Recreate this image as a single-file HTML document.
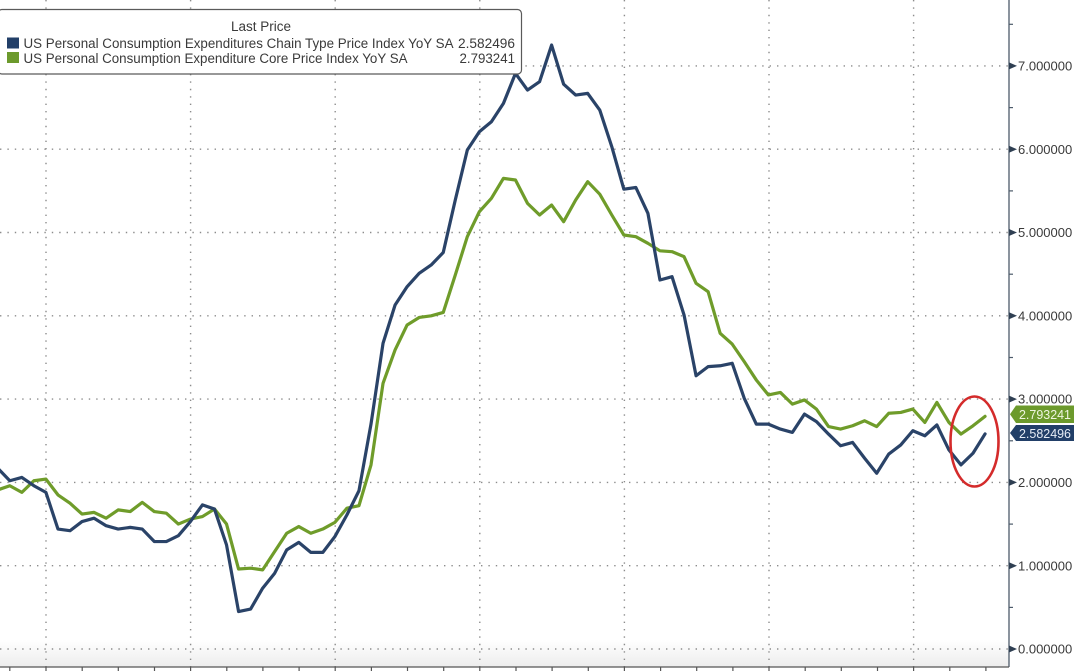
<!DOCTYPE html>
<html>
<head>
<meta charset="utf-8">
<style>
  html,body{margin:0;padding:0;background:#ffffff;}
  body{width:1080px;height:671px;overflow:hidden;}
  svg{display:block;}
  text{font-family:"Liberation Sans",Arial,sans-serif;}
</style>
</head>
<body>
<svg width="1080" height="671" viewBox="0 0 1080 671" xmlns="http://www.w3.org/2000/svg">
  <defs>
    <linearGradient id="btm" x1="0" y1="0" x2="0" y2="1">
      <stop offset="0" stop-color="#ffffff"/>
      <stop offset="1" stop-color="#ededed"/>
    </linearGradient>
  </defs>
  <rect x="0" y="0" width="1080" height="671" fill="#ffffff"/>
  <rect x="0" y="640" width="1009" height="27" fill="url(#btm)"/>

  <!-- horizontal gridlines -->
  <g stroke="#8c8c8c" stroke-width="1.4" stroke-dasharray="1.4 6" fill="none">
    <line x1="0" y1="649" x2="1009" y2="649"/>
    <line x1="0" y1="565.7" x2="1009" y2="565.7"/>
    <line x1="0" y1="482.4" x2="1009" y2="482.4"/>
    <line x1="0" y1="399.1" x2="1009" y2="399.1"/>
    <line x1="0" y1="315.8" x2="1009" y2="315.8"/>
    <line x1="0" y1="232.5" x2="1009" y2="232.5"/>
    <line x1="0" y1="149.2" x2="1009" y2="149.2"/>
    <line x1="0" y1="65.9" x2="1009" y2="65.9"/>
  </g>
  <!-- vertical gridlines -->
  <g stroke="#8c8c8c" stroke-width="1.4" stroke-dasharray="1.4 6" fill="none">
    <line x1="46" y1="0" x2="46" y2="667"/>
    <line x1="190.6" y1="0" x2="190.6" y2="667"/>
    <line x1="335.2" y1="0" x2="335.2" y2="667"/>
    <line x1="479.8" y1="0" x2="479.8" y2="667"/>
    <line x1="624.4" y1="0" x2="624.4" y2="667"/>
    <line x1="769" y1="0" x2="769" y2="667"/>
    <line x1="913.6" y1="0" x2="913.6" y2="667"/>
  </g>

  <!-- series -->
  <g transform="matrix(12.04 0 0 -83.3 -2.24 649)" fill="none" stroke-linejoin="round" stroke-linecap="round">
    <polyline vector-effect="non-scaling-stroke" stroke="#6f9c2a" stroke-width="3.2"
      points="0,1.91 1,1.96 2,1.88 3,2.02 4,2.04 5,1.85 6,1.75 7,1.62 8,1.64 9,1.57 10,1.67 11,1.65 12,1.76 13,1.65 14,1.63 15,1.50 16,1.56 17,1.59 18,1.68 19,1.50 20,0.96 21,0.97 22,0.95 23,1.17 24,1.39 25,1.47 26,1.39 27,1.44 28,1.52 29,1.69 30,1.72 31,2.21 32,3.19 33,3.59 34,3.89 35,3.98 36,4.00 37,4.04 38,4.49 39,4.95 40,5.25 41,5.41 42,5.65 43,5.63 44,5.35 45,5.21 46,5.33 47,5.13 48,5.39 49,5.61 50,5.46 51,5.21 52,4.97 53,4.95 54,4.87 55,4.78 56,4.77 57,4.71 58,4.39 59,4.29 60,3.79 61,3.66 62,3.45 63,3.23 64,3.05 65,3.08 66,2.94 67,2.99 68,2.88 69,2.67 70,2.64 71,2.68 72,2.74 73,2.67 74,2.83 75,2.84 76,2.88 77,2.72 78,2.96 79,2.72 80,2.58 81,2.68 82,2.793"/>
    <polyline vector-effect="non-scaling-stroke" stroke="#2a4368" stroke-width="3.2"
      points="0,2.17 1,2.02 2,2.06 3,1.96 4,1.88 5,1.44 6,1.42 7,1.53 8,1.57 9,1.48 10,1.44 11,1.46 12,1.44 13,1.29 14,1.29 15,1.36 16,1.53 17,1.73 18,1.68 19,1.25 20,0.45 21,0.48 22,0.73 23,0.91 24,1.19 25,1.28 26,1.16 27,1.16 28,1.35 29,1.61 30,1.90 31,2.70 32,3.67 33,4.13 34,4.35 35,4.51 36,4.61 37,4.76 38,5.39 39,5.99 40,6.21 41,6.33 42,6.55 43,6.91 44,6.71 45,6.81 46,7.25 47,6.78 48,6.65 49,6.67 50,6.47 51,6.03 52,5.52 53,5.54 54,5.23 55,4.43 56,4.47 57,4.01 58,3.28 59,3.39 60,3.40 61,3.43 62,3.01 63,2.70 64,2.70 65,2.64 66,2.60 67,2.82 68,2.73 69,2.58 70,2.44 71,2.48 72,2.29 73,2.11 74,2.34 75,2.45 76,2.62 77,2.56 78,2.69 79,2.39 80,2.21 81,2.35 82,2.582"/>
  </g>

  <!-- red ellipse -->
  <ellipse cx="974.5" cy="441.5" rx="24" ry="45" fill="none" stroke="#d42b2b" stroke-width="2.6"/>

  <!-- axes -->
  <line x1="1009" y1="0" x2="1009" y2="667" stroke="#4d5b6a" stroke-width="1.3"/>
  <line x1="0" y1="667" x2="1009" y2="667" stroke="#555" stroke-width="1.3"/>
  <g stroke="#555" stroke-width="1.2">
    <line x1="9.8" y1="667" x2="9.8" y2="671"/>
    <line x1="46" y1="667" x2="46" y2="671"/>
    <line x1="82.2" y1="667" x2="82.2" y2="671"/>
    <line x1="118.3" y1="667" x2="118.3" y2="671"/>
    <line x1="154.5" y1="667" x2="154.5" y2="671"/>
    <line x1="190.6" y1="667" x2="190.6" y2="671"/>
    <line x1="226.8" y1="667" x2="226.8" y2="671"/>
    <line x1="262.9" y1="667" x2="262.9" y2="671"/>
    <line x1="299.1" y1="667" x2="299.1" y2="671"/>
    <line x1="335.2" y1="667" x2="335.2" y2="671"/>
    <line x1="371.4" y1="667" x2="371.4" y2="671"/>
    <line x1="407.5" y1="667" x2="407.5" y2="671"/>
    <line x1="443.7" y1="667" x2="443.7" y2="671"/>
    <line x1="479.8" y1="667" x2="479.8" y2="671"/>
    <line x1="516" y1="667" x2="516" y2="671"/>
    <line x1="552.1" y1="667" x2="552.1" y2="671"/>
    <line x1="588.3" y1="667" x2="588.3" y2="671"/>
    <line x1="624.4" y1="667" x2="624.4" y2="671"/>
    <line x1="660.6" y1="667" x2="660.6" y2="671"/>
    <line x1="696.7" y1="667" x2="696.7" y2="671"/>
    <line x1="732.9" y1="667" x2="732.9" y2="671"/>
    <line x1="769" y1="667" x2="769" y2="671"/>
    <line x1="805.2" y1="667" x2="805.2" y2="671"/>
    <line x1="841.3" y1="667" x2="841.3" y2="671"/>
    <line x1="877.5" y1="667" x2="877.5" y2="671"/>
    <line x1="913.6" y1="667" x2="913.6" y2="671"/>
    <line x1="949.8" y1="667" x2="949.8" y2="671"/>
    <line x1="985.9" y1="667" x2="985.9" y2="671"/>
  </g>
  <!-- minor ticks on right axis -->
  <g stroke="#4d5b6a" stroke-width="1.2">
    <line x1="1009" y1="24.3" x2="1013" y2="24.3"/>
    <line x1="1009" y1="107.6" x2="1013" y2="107.6"/>
    <line x1="1009" y1="190.9" x2="1013" y2="190.9"/>
    <line x1="1009" y1="274.2" x2="1013" y2="274.2"/>
    <line x1="1009" y1="357.5" x2="1013" y2="357.5"/>
    <line x1="1009" y1="440.8" x2="1013" y2="440.8"/>
    <line x1="1009" y1="524.1" x2="1013" y2="524.1"/>
    <line x1="1009" y1="607.4" x2="1013" y2="607.4"/>
  </g>
  <!-- major tick arrows -->
  <g fill="#2f3f52">
    <polygon points="1009,62.4 1017,65.9 1009,69.4"/>
    <polygon points="1009,145.7 1017,149.2 1009,152.7"/>
    <polygon points="1009,229 1017,232.5 1009,236"/>
    <polygon points="1009,312.3 1017,315.8 1009,319.3"/>
    <polygon points="1009,395.6 1017,399.1 1009,402.6"/>
    <polygon points="1009,478.9 1017,482.4 1009,485.9"/>
    <polygon points="1009,562.2 1017,565.7 1009,569.2"/>
    <polygon points="1009,645.5 1017,649 1009,652.5"/>
  </g>
  <g font-size="13" fill="#3a3a3a">
    <text x="1018" y="70.5">7.000000</text>
    <text x="1018" y="153.8">6.000000</text>
    <text x="1018" y="237.1">5.000000</text>
    <text x="1018" y="320.4">4.000000</text>
    <text x="1018" y="403.7">3.000000</text>
    <text x="1018" y="487">2.000000</text>
    <text x="1018" y="570.3">1.000000</text>
    <text x="1018" y="653.6">0.000000</text>
  </g>

  <!-- last value labels -->
  <path d="M1010,414.3 L1016,405.5 L1074,405.5 L1074,423 L1016,423 Z" fill="#6c9a2c"/>
  <text x="1019" y="419" font-size="13" fill="#eef5e0" textLength="52" lengthAdjust="spacingAndGlyphs">2.793241</text>
  <path d="M1010,433 L1016,425 L1074,425 L1074,441 L1016,441 Z" fill="#223f68"/>
  <text x="1019" y="437.8" font-size="13" fill="#e6ecf5" textLength="52" lengthAdjust="spacingAndGlyphs">2.582496</text>

  <!-- legend -->
  <rect x="-2" y="9.5" width="523.5" height="64.5" rx="4" ry="4" fill="#ffffff" stroke="#5a5a5a" stroke-width="1.2"/>
  <text x="261" y="31" font-size="13.5" fill="#3a3a3a" text-anchor="middle">Last Price</text>
  <rect x="7" y="37.5" width="12" height="11" fill="#223f68"/>
  <text x="23.5" y="48" font-size="13.5" fill="#3a3a3a" textLength="430" lengthAdjust="spacingAndGlyphs">US Personal Consumption Expenditures Chain Type Price Index YoY SA</text>
  <text x="458" y="48" font-size="13.5" fill="#3a3a3a" textLength="57" lengthAdjust="spacingAndGlyphs">2.582496</text>
  <rect x="7" y="52" width="12" height="11" fill="#6c9a2c"/>
  <text x="23.5" y="62.8" font-size="13.5" fill="#3a3a3a" textLength="384" lengthAdjust="spacingAndGlyphs">US Personal Consumption Expenditure Core Price Index YoY SA</text>
  <text x="459.5" y="62.8" font-size="13.5" fill="#3a3a3a" textLength="55.5" lengthAdjust="spacingAndGlyphs">2.793241</text>
</svg>
</body>
</html>
